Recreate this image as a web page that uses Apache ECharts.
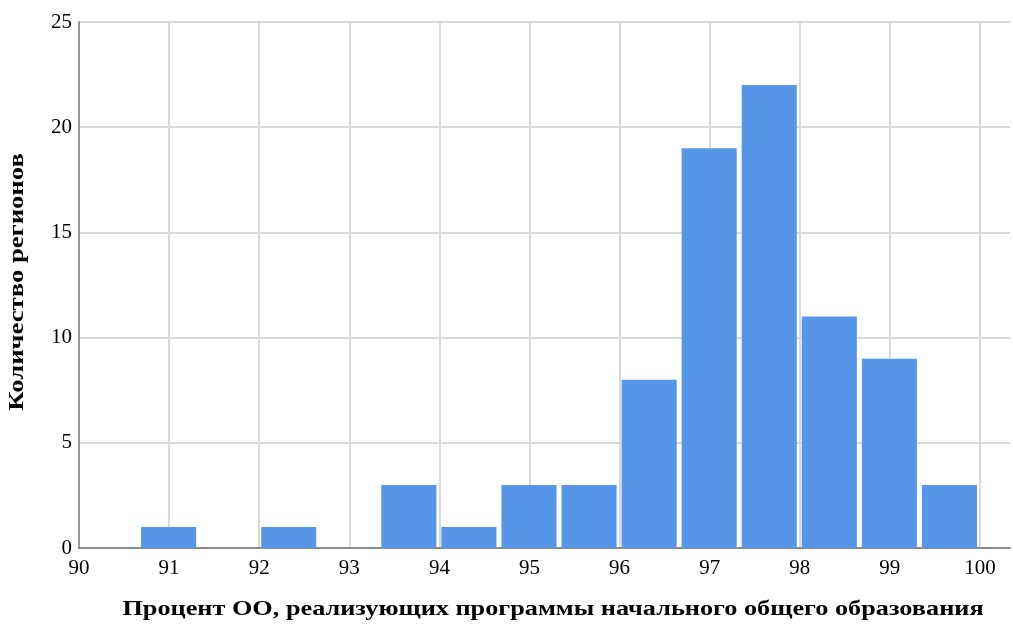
<!DOCTYPE html>
<html><head><meta charset="utf-8">
<script src="https://cdn.jsdelivr.net/npm/echarts@6/dist/echarts.min.js"></script>
<style>html,body{margin:0;padding:0;background:#fff}#c{width:1013px;height:626px}</style>
</head><body><div id="c"></div>
<script>
const binLower = [90, 90.6667, 91.3333, 92, 92.6667, 93.3333, 94, 94.6667, 95.3333, 96, 96.6667, 97.3333, 98, 98.6667, 99.3333];
const binUpper = [90.6667, 91.3333, 92, 92.6667, 93.3333, 94, 94.6667, 95.3333, 96, 96.6667, 97.3333, 98, 98.6667, 99.3333, 100];
const counts = [0, 1, 0, 1, 0, 3, 1, 3, 3, 8, 19, 22, 11, 9, 3];
const xTitle = 'Процент ОО, реализующих программы начального общего образования';
const yTitle = 'Количество регионов';

const data = counts.map((c, i) => [binLower[i], binUpper[i], c]);
const font = '"Liberation Serif", "Times New Roman", serif';
const chart = echarts.init(document.getElementById('c'), null, {renderer: 'canvas'});
chart.setOption({
  animation: false,
  backgroundColor: '#fff',
  grid: {left: 79, right: 3, top: 22, bottom: 78},
  xAxis: {
    type: 'value', min: 90, max: 100.3333, interval: 1,
    axisLine: {show: true, lineStyle: {color: '#8c8c8c', width: 2}},
    axisTick: {show: false},
    axisLabel: {color: '#000', fontFamily: font, fontSize: 21, margin: 10, showMaxLabel: false,
      formatter: v => (Math.abs(v - Math.round(v)) < 1e-6 ? String(Math.round(v)) : '')},
    splitLine: {show: true, showMaxLine: false, lineStyle: {color: '#d9d9d9', width: 2}}
  },
  yAxis: {
    type: 'value', min: 0, max: 25, interval: 5,
    axisLine: {show: true, lineStyle: {color: '#999999', width: 2}},
    axisTick: {show: false},
    axisLabel: {color: '#000', fontFamily: font, fontSize: 21, margin: 7, padding: [5, 0, 0, 0]},
    splitLine: {show: true, lineStyle: {color: '#d9d9d9', width: 2}}
  },
  graphic: [
    {type: 'text', x: 553, y: 610, scaleX: 1.25,
      style: {text: xTitle, font: 'bold 21px ' + font, fill: '#000', align: 'center', verticalAlign: 'middle'}},
    {type: 'text', x: 18, y: 282, rotation: Math.PI / 2, scaleX: 1.27,
      style: {text: yTitle, font: 'bold 21px ' + font, fill: '#000', align: 'center', verticalAlign: 'middle'}}
  ],
  series: [{
    type: 'custom',
    data: data,
    encode: {x: [0, 1], y: 2},
    renderItem: function (params, api) {
      const c = api.value(2);
      if (!c) return null;
      const p0 = api.coord([api.value(0), 0]);
      const p1 = api.coord([api.value(1), c]);
      return {
        type: 'rect',
        shape: {x: p0[0] + 2, y: p1[1], width: p1[0] - p0[0] - 5, height: p0[1] - p1[1]},
        style: {fill: '#5596e6'}
      };
    }
  }]
});
</script></body></html>
